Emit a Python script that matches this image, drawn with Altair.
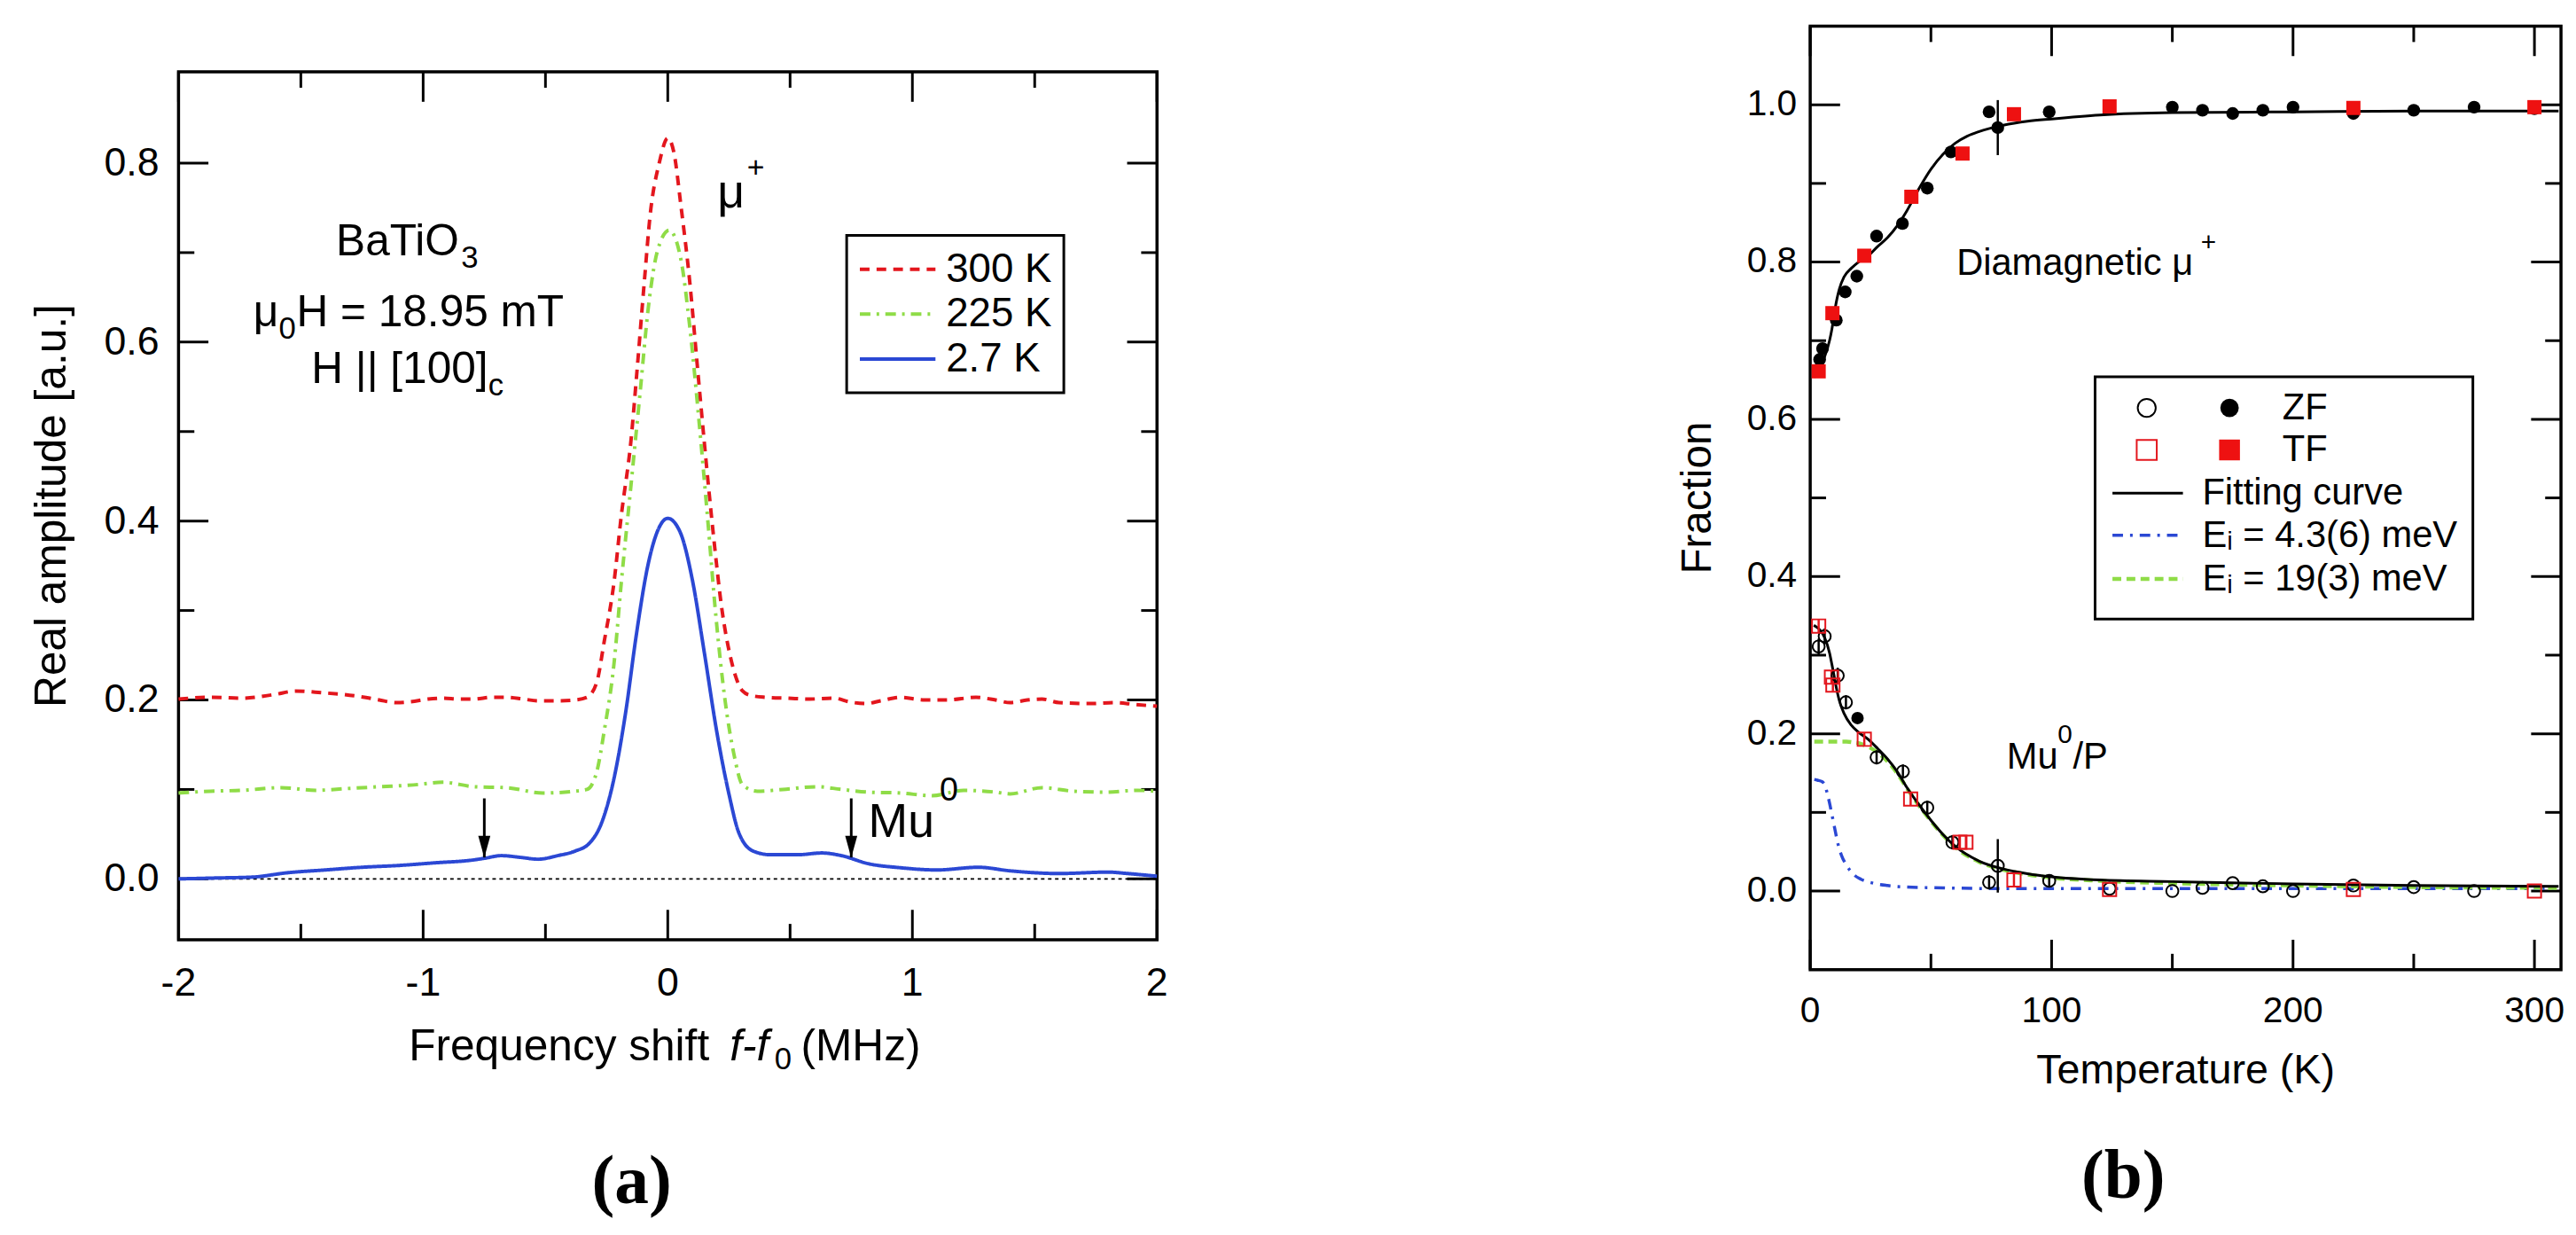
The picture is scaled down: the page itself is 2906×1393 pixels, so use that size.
import altair as alt
import pandas as pd

FONT = "Liberation Sans"
SERIF = "Liberation Serif"
RED = "#e3161d"
GREEN = "#8fdc47"
BLUE = "#2b48d4"

# ---------------- panel (a): Fourier spectra ----------------
series_labels = ["300 K", "225 K", "2.7 K"]

freq_300 = [-2.00, -1.87, -1.74, -1.61, -1.52, -1.41, -1.32, -1.24, -1.18, -1.11, -1.05, -0.98,
            -0.92, -0.85, -0.79, -0.72, -0.66, -0.59, -0.53, -0.45, -0.38, -0.33, -0.29, -0.26,
            -0.22, -0.19, -0.15, -0.126, -0.096, -0.072, -0.035, 0.00, 0.025, 0.054, 0.09, 0.12,
            0.15, 0.186, 0.222, 0.258, 0.306, 0.34, 0.40, 0.49, 0.58, 0.68, 0.74, 0.81, 0.87,
            0.95, 1.05, 1.14, 1.26, 1.34, 1.40, 1.47, 1.53, 1.60, 1.73, 1.83, 1.91, 2.00]
amp_300 = [0.201, 0.203, 0.202, 0.206, 0.210, 0.208, 0.206, 0.203, 0.200, 0.197, 0.198, 0.201,
           0.202, 0.201, 0.201, 0.203, 0.203, 0.201, 0.199, 0.199, 0.200, 0.203, 0.220, 0.265,
           0.331, 0.406, 0.491, 0.567, 0.667, 0.742, 0.800, 0.828, 0.812, 0.752, 0.667, 0.576,
           0.486, 0.386, 0.300, 0.246, 0.210, 0.205, 0.203, 0.202, 0.201, 0.202, 0.198, 0.196,
           0.199, 0.203, 0.200, 0.200, 0.203, 0.200, 0.197, 0.200, 0.201, 0.197, 0.196, 0.197,
           0.195, 0.193]

freq_225 = [-2.00, -1.87, -1.74, -1.58, -1.44, -1.31, -1.18, -1.04, -0.92, -0.79, -0.66, -0.51,
            -0.38, -0.33, -0.29, -0.26, -0.22, -0.19, -0.15, -0.114, -0.078, -0.042, 0.006, 0.054,
            0.09, 0.126, 0.162, 0.198, 0.234, 0.27, 0.306, 0.366, 0.47, 0.61, 0.71, 0.82, 0.95,
            1.08, 1.21, 1.34, 1.40, 1.53, 1.66, 1.79, 1.92, 2.00]
amp_225 = [0.096, 0.098, 0.099, 0.102, 0.099, 0.101, 0.103, 0.105, 0.108, 0.103, 0.102, 0.096,
           0.098, 0.100, 0.120, 0.165, 0.240, 0.331, 0.441, 0.541, 0.642, 0.702, 0.725, 0.692,
           0.617, 0.517, 0.406, 0.290, 0.200, 0.140, 0.105, 0.098, 0.100, 0.103, 0.100, 0.097,
           0.096, 0.093, 0.099, 0.097, 0.095, 0.102, 0.098, 0.097, 0.099, 0.098]

freq_27 = [-2.00, -1.85, -1.70, -1.55, -1.40, -1.25, -1.10, -0.95, -0.80, -0.75, -0.68, -0.60,
           -0.53, -0.45, -0.38, -0.32, -0.27, -0.22, -0.17, -0.13, -0.08, -0.04, 0.00, 0.05, 0.10,
           0.15, 0.20, 0.25, 0.29, 0.35, 0.42, 0.53, 0.63, 0.71, 0.82, 0.95, 1.10, 1.27, 1.40,
           1.60, 1.80, 1.88, 2.00]
amp_27 = [0.000, 0.001, 0.002, 0.007, 0.010, 0.013, 0.015, 0.018, 0.021, 0.023, 0.026, 0.024,
          0.022, 0.026, 0.031, 0.040, 0.063, 0.112, 0.190, 0.270, 0.352, 0.390, 0.403, 0.388,
          0.335, 0.252, 0.165, 0.095, 0.052, 0.031, 0.027, 0.027, 0.029, 0.026, 0.017, 0.0125,
          0.010, 0.013, 0.009, 0.006, 0.0076, 0.006, 0.003]

mu0_arrow_freq = [-0.75, 0.75]
mu0_arrow_from = [0.090, 0.090]
mu0_arrow_to = [0.024, 0.024]

a_xticks_major = [-2, -1, 0, 1, 2]
a_xticks_minor = [-1.5, -0.5, 0.5, 1.5]
a_yticks_major = [0.0, 0.2, 0.4, 0.6, 0.8]
a_yticks_minor = [0.1, 0.3, 0.5, 0.7]

# ---------------- panel (b): fractions vs temperature ----------------
zf_T = [3.9, 5.1, 10.8, 14.5, 19.3, 27.5, 38.2, 48.5, 58.3, 74.1, 77.7, 99.0, 150, 162.5, 175,
        187.5, 200, 225, 250, 275, 300]
zf_dia = [0.676, 0.690, 0.726, 0.762, 0.782, 0.833, 0.849, 0.894, 0.940, 0.991, 0.971, 0.991,
          0.997, 0.993, 0.989, 0.993, 0.997, 0.989, 0.993, 0.997, 0.995]
zf_dia_err = [0, 0, 0, 0, 0, 0, 0, 0, 0, 0, 0.035, 0, 0, 0, 0, 0, 0, 0, 0, 0, 0]

tf_T = [3.5, 9.2, 22.4, 41.9, 63.1, 84.4, 124, 225, 300]
tf_dia = [0.661, 0.735, 0.808, 0.883, 0.938, 0.988, 0.998, 0.996, 0.997]

zf_mu_T = [3.5, 6.0, 11.4, 14.8, 27.5, 38.4, 48.5, 58.9, 74.1, 77.7, 99.0, 124, 150, 162.5, 175,
           187.5, 200, 225, 250, 275]
zf_mu = [0.311, 0.324, 0.274, 0.240, 0.170, 0.152, 0.106, 0.062, 0.011, 0.032, 0.013, 0.003,
         0.000, 0.004, 0.010, 0.006, 0.000, 0.007, 0.005, 0.000]
zf_mu_err = [0.010, 0.010, 0.010, 0.009, 0.009, 0.009, 0.009, 0.009, 0.009, 0.034, 0.007, 0, 0,
             0, 0, 0, 0, 0, 0, 0]
zf_mu_filled_T = [19.6]
zf_mu_filled = [0.220]

tf_mu_T = [3.5, 8.8, 9.4, 22.4, 41.6, 62.0, 64.5, 84.4, 124, 225, 300]
tf_mu = [0.337, 0.272, 0.262, 0.193, 0.117, 0.062, 0.062, 0.014, 0.002, 0.002, 0.000]
tf_mu_err = [0.008, 0.008, 0.008, 0.008, 0.008, 0.008, 0.008, 0.008, 0, 0, 0]

fit_dia_T = [1.5, 2, 4, 6, 8, 9, 10, 11, 12, 14, 17, 20, 24, 28, 32, 36, 40, 45, 50, 55, 60, 65,
             70, 80, 90, 100, 120, 150, 200, 250, 310]
fit_dia = [0.653, 0.656, 0.665, 0.680, 0.700, 0.715, 0.735, 0.752, 0.765, 0.781, 0.792, 0.800,
           0.808, 0.820, 0.831, 0.846, 0.865, 0.893, 0.918, 0.937, 0.951, 0.960, 0.966, 0.974,
           0.979, 0.982, 0.987, 0.990, 0.991, 0.992, 0.992]
fit_mu_T = [1.5, 2, 4, 6, 8, 9, 10, 11, 12, 14, 17, 20, 24, 28, 32, 36, 40, 45, 50, 55, 60, 70,
            80, 90, 100, 120, 150, 200, 250, 310]
fit_mu = [0.338, 0.337, 0.332, 0.322, 0.303, 0.288, 0.272, 0.256, 0.243, 0.226, 0.211, 0.202,
          0.193, 0.181, 0.168, 0.152, 0.132, 0.110, 0.090, 0.072, 0.057, 0.038, 0.028, 0.022,
          0.018, 0.014, 0.012, 0.009, 0.007, 0.006]
ei43_T = [1.7, 3, 5, 6, 7, 8, 9, 10, 11.5, 13, 15, 18, 21, 26, 32, 40, 55, 80, 120, 200, 310]
ei43 = [0.142, 0.141, 0.139, 0.135, 0.125, 0.112, 0.097, 0.082, 0.060, 0.045, 0.033, 0.021,
        0.015, 0.010, 0.007, 0.005, 0.004, 0.003, 0.003, 0.003, 0.003]
ei19_T = [1.7, 5, 10, 15, 18, 20, 22, 25, 28, 32, 36, 40, 45, 50, 55, 60, 70, 80, 90, 100, 120,
          150, 200, 250, 310]
ei19 = [0.190, 0.190, 0.190, 0.190, 0.189, 0.188, 0.186, 0.182, 0.176, 0.165, 0.150, 0.131,
        0.109, 0.089, 0.071, 0.056, 0.037, 0.027, 0.021, 0.017, 0.013, 0.010, 0.007, 0.005, 0.004]

b_xticks_major = [0, 100, 200, 300]
b_xticks_minor = [50, 150, 250]
b_yticks_major = [0.0, 0.2, 0.4, 0.6, 0.8, 1.0]
b_yticks_minor = [0.1, 0.3, 0.5, 0.7, 0.9]

legend_b_labels = ["ZF", "TF", "Fitting curve", "E\u1d62 = 4.3(6) meV", "E\u1d62 = 19(3) meV"]

# ---------------- layout / style constants ----------------
MAJ, MINR = 34, 18
A_W, A_H = 1113, 987
B_W, B_H = 854, 1073
X_A, Y_A = [-2, 2], [-0.068, 0.902]
X_B, Y_B = [0, 311], [-0.1, 1.1]


class Frame:
    """Helper that converts pixel offsets around a panel into that panel's data units."""

    def __init__(self, xs, ys, W, H, xdom, ydom):
        self.xs, self.ys, self.W, self.H = xs, ys, W, H
        self.xdom, self.ydom = xdom, ydom
        self.kx = (xdom[1] - xdom[0]) / W
        self.ky = (ydom[1] - ydom[0]) / H

    def px_x(self, px):
        return self.xdom[0] + px * self.kx

    def px_y(self, py):  # py measured downward from the top edge
        return self.ydom[1] - py * self.ky

    def ticks(self, xmaj, xmin_, ymaj, ymin_):
        xrows, yrows = [], []
        for vals, L in [(xmaj, MAJ), (xmin_, MINR)]:
            for v in vals:
                xrows.append({"tx": v, "ty0": self.ydom[0], "ty1": self.ydom[0] + L * self.ky})
                xrows.append({"tx": v, "ty0": self.ydom[1], "ty1": self.ydom[1] - L * self.ky})
        for vals, L in [(ymaj, MAJ), (ymin_, MINR)]:
            for v in vals:
                yrows.append({"ty": v, "tx0": self.xdom[0], "tx1": self.xdom[0] + L * self.kx})
                yrows.append({"ty": v, "tx0": self.xdom[1], "tx1": self.xdom[1] - L * self.kx})
        xt = alt.Chart(pd.DataFrame(xrows)).mark_rule(color="black", strokeWidth=3).encode(
            x=alt.X("tx:Q", scale=self.xs, axis=None), y=alt.Y("ty0:Q", scale=self.ys, axis=None), y2="ty1:Q")
        yt = alt.Chart(pd.DataFrame(yrows)).mark_rule(color="black", strokeWidth=3).encode(
            y=alt.Y("ty:Q", scale=self.ys, axis=None), x=alt.X("tx0:Q", scale=self.xs, axis=None), x2="tx1:Q")
        return [xt, yt]

    def labels(self, xvals, xtxt, yvals, ytxt, size, xpad, ypad):
        dx = pd.DataFrame({"lx": xvals, "ly": [self.px_y(self.H + xpad)] * len(xvals), "lt": xtxt})
        dy = pd.DataFrame({"ly": yvals, "lx": [self.px_x(-ypad)] * len(yvals), "lt": ytxt})
        return [
            alt.Chart(dx).mark_text(font=FONT, fontSize=size, color="black", align="center",
                                    baseline="alphabetic").encode(
                x=alt.X("lx:Q", scale=self.xs, axis=None), y=alt.Y("ly:Q", scale=self.ys, axis=None),
                text="lt:N"),
            alt.Chart(dy).mark_text(font=FONT, fontSize=size, color="black", align="right",
                                    baseline="middle").encode(
                x=alt.X("lx:Q", scale=self.xs, axis=None), y=alt.Y("ly:Q", scale=self.ys, axis=None),
                text="lt:N"),
        ]

    def text(self, t, px, py, **mk):
        df = pd.DataFrame({"ft": [t], "fx": [self.px_x(px)], "fy": [self.px_y(py)]})
        return alt.Chart(df).mark_text(font=FONT, color="black", **mk).encode(
            x=alt.X("fx:Q", scale=self.xs, axis=None), y=alt.Y("fy:Q", scale=self.ys, axis=None), text="ft:N")


def text_layer(rows, xs, ys, **mk):
    df = pd.DataFrame(rows, columns=["t", "x", "y"])
    return alt.Chart(df).mark_text(font=FONT, color="black", **mk).encode(
        x=alt.X("x:Q", scale=xs, axis=None), y=alt.Y("y:Q", scale=ys, axis=None), text="t:N")


# ======================= panel (a) =======================
xs_a = alt.Scale(domain=X_A, nice=False, zero=False)
ys_a = alt.Scale(domain=Y_A, nice=False, zero=False)
fa = Frame(xs_a, ys_a, A_W, A_H, X_A, Y_A)

rows = []
for lab, fx, ay in [("300 K", freq_300, amp_300), ("225 K", freq_225, amp_225), ("2.7 K", freq_27, amp_27)]:
    for i, (f, a) in enumerate(zip(fx, ay)):
        rows.append({"f": f, "a": a, "T": lab, "i": i})
dfa = pd.DataFrame(rows)

leg_a = alt.Legend(title=None, orient="none", legendX=760, legendY=186, symbolType="stroke",
                   symbolSize=7396, symbolStrokeWidth=4, labelFont=FONT, labelFontSize=46,
                   labelColor="black", labelOffset=10, clipHeight=51, rowPadding=0, padding=13,
                   strokeColor="black")

lines_a = alt.Chart(dfa).mark_line(strokeWidth=4, interpolate="monotone").encode(
    x=alt.X("f:Q", scale=xs_a, axis=None),
    y=alt.Y("a:Q", scale=ys_a, axis=None),
    color=alt.Color("T:N", scale=alt.Scale(domain=series_labels, range=[RED, GREEN, BLUE]), legend=leg_a),
    strokeDash=alt.StrokeDash("T:N", scale=alt.Scale(domain=series_labels,
                                                     range=[[11, 8], [12, 7, 3, 7], [1, 0]]), legend=leg_a),
    detail="T:N",
    order="i:Q",
)

zero_line = alt.Chart(pd.DataFrame({"z": [0.0]})).mark_rule(
    color="black", strokeWidth=1.6, strokeDash=[4, 4]).encode(y=alt.Y("z:Q", scale=ys_a, axis=None))

arr = pd.DataFrame({"f": mu0_arrow_freq, "y1": mu0_arrow_from, "y2": mu0_arrow_to})
arrow_rule = alt.Chart(arr).mark_rule(color="black", strokeWidth=3).encode(
    x=alt.X("f:Q", scale=xs_a, axis=None), y=alt.Y("y1:Q", scale=ys_a, axis=None), y2="y2:Q")
arrow_head = alt.Chart(arr).mark_point(
    shape="M-0.55,-1L0.55,-1L0,1Z", filled=True, color="black", opacity=1, size=625,
    yOffset=-12).encode(x=alt.X("f:Q", scale=xs_a, axis=None), y=alt.Y("y2:Q", scale=ys_a, axis=None))

texts_a = [
    text_layer([("BaTiO", -1.356, 0.697), ("\u03bc", -1.694, 0.618), ("H = 18.95 mT", -1.518, 0.618),
                ("H || [100]", -1.457, 0.554)], xs_a, ys_a, fontSize=50, align="left", baseline="alphabetic"),
    text_layer([("3", -0.845, 0.683), ("0", -1.59, 0.604), ("c", -0.734, 0.540)], xs_a, ys_a,
               fontSize=35, align="left", baseline="alphabetic"),
    text_layer([("\u03bc", 0.259, 0.75)], xs_a, ys_a, fontSize=54, align="center", baseline="alphabetic"),
    text_layer([("+", 0.36, 0.794)], xs_a, ys_a, fontSize=34, align="center", baseline="middle"),
    text_layer([("Mu", 0.82, 0.047)], xs_a, ys_a, fontSize=54, align="left", baseline="alphabetic"),
    text_layer([("0", 1.149, 0.098)], xs_a, ys_a, fontSize=38, align="center", baseline="middle"),
]

ticks_a = fa.ticks(a_xticks_major, a_xticks_minor, a_yticks_major, a_yticks_minor)
deco_a = fa.labels(a_xticks_major, [str(int(v)) for v in a_xticks_major],
                   a_yticks_major, ["%.1f" % v for v in a_yticks_major], 45, 64, 22)
deco_a += [
    fa.text("Frequency shift", 262, A_H + 137, fontSize=50, align="left", baseline="alphabetic"),
    fa.text("f-f", 627, A_H + 137, fontSize=50, align="left", baseline="alphabetic", fontStyle="italic"),
    fa.text("0", 678, A_H + 147, fontSize=35, align="left", baseline="alphabetic"),
    fa.text("(MHz)", 708, A_H + 137, fontSize=50, align="left", baseline="alphabetic"),
    fa.text("Real amplitude [a.u.]", -128, A_H / 2, fontSize=50, align="center", baseline="alphabetic",
            angle=270),
]

panel_a = alt.layer(*ticks_a, zero_line, lines_a, arrow_rule, arrow_head, *texts_a, *deco_a).properties(
    width=A_W, height=A_H,
    title=alt.TitleParams("(a)", orient="bottom", font=SERIF, fontWeight="bold", fontSize=78,
                          offset=84, frame="group", anchor="middle", dx=-41, color="black"))

spacer = alt.Chart(pd.DataFrame({"s": [0]})).mark_point(opacity=0).properties(
    width=20, height=47, view=alt.ViewBackground(stroke="transparent"))

col_a = alt.vconcat(spacer, panel_a, spacing=0).resolve_scale(color="independent", strokeDash="independent")

# ======================= panel (b) =======================
xs_b = alt.Scale(domain=X_B, nice=False, zero=False)
ys_b = alt.Scale(domain=Y_B, nice=False, zero=False)
fb = Frame(xs_b, ys_b, B_W, B_H, X_B, Y_B)


def line_b(T, F, **mk):
    df = pd.DataFrame({"T": T, "F": F})
    return alt.Chart(df).mark_line(interpolate="monotone", **mk).encode(
        x=alt.X("T:Q", scale=xs_b, axis=None), y=alt.Y("F:Q", scale=ys_b, axis=None))


def pts_b(T, F, **mk):
    df = pd.DataFrame({"T": T, "F": F})
    return alt.Chart(df).mark_point(opacity=1, **mk).encode(
        x=alt.X("T:Q", scale=xs_b, axis=None), y=alt.Y("F:Q", scale=ys_b, axis=None))


def err_b(T, F, E, color):
    df = pd.DataFrame({"T": T, "F": F, "E": E})
    df = df[df["E"] > 0]
    df = df.assign(lo=df["F"] - df["E"], hi=df["F"] + df["E"])
    return alt.Chart(df).mark_rule(color=color, strokeWidth=2.5).encode(
        x=alt.X("T:Q", scale=xs_b, axis=None), y=alt.Y("lo:Q", scale=ys_b, axis=None), y2="hi:Q")


layers_b = fb.ticks(b_xticks_major, b_xticks_minor, b_yticks_major, b_yticks_minor) + [
    line_b(ei43_T, ei43, color=BLUE, strokeWidth=3.5, strokeDash=[12, 8, 3, 8]),
    line_b(ei19_T, ei19, color=GREEN, strokeWidth=4.5, strokeDash=[10, 6]),
    line_b(fit_mu_T, fit_mu, color="black", strokeWidth=3),
    line_b(fit_dia_T, fit_dia, color="black", strokeWidth=3),
    err_b(zf_T, zf_dia, zf_dia_err, "black"),
    err_b(zf_mu_T, zf_mu, zf_mu_err, "black"),
    err_b(tf_mu_T, tf_mu, tf_mu_err, RED),
    pts_b(zf_mu_T, zf_mu, shape="circle", filled=False, color="black", strokeWidth=2, size=190),
    pts_b(tf_mu_T, tf_mu, shape="square", filled=False, color=RED, strokeWidth=2, size=230),
    pts_b(zf_mu_filled_T, zf_mu_filled, shape="circle", filled=True, color="black", size=200),
    pts_b(zf_T, zf_dia, shape="circle", filled=True, color="black", size=210),
    pts_b(tf_T, tf_dia, shape="square", filled=True, color="#ee1111", size=260),
]

# hand-made legend of panel (b), placed in data coordinates of the panel
LB_X0, LB_X1, LB_Y0, LB_Y1 = 118.0, 274.5, 0.346, 0.654
LB_ROWS = [0.6145, 0.561, 0.506, 0.4525, 0.397]
LB_SYM1, LB_SYM2, LB_TXT1 = 139.4, 173.7, 195.6
LB_LN0, LB_LN1, LB_TXT2 = 125.2, 154.4, 162.4

legend_box = alt.Chart(pd.DataFrame({"x0": [LB_X0], "x1": [LB_X1], "y0": [LB_Y0], "y1": [LB_Y1]})).mark_rect(
    fill="white", stroke="black", strokeWidth=3).encode(
    x=alt.X("x0:Q", scale=xs_b, axis=None), x2="x1:Q", y=alt.Y("y0:Q", scale=ys_b, axis=None), y2="y1:Q")
layers_b.append(legend_box)
layers_b += [
    pts_b([LB_SYM1], [LB_ROWS[0]], shape="circle", filled=False, color="black", strokeWidth=2, size=420),
    pts_b([LB_SYM2], [LB_ROWS[0]], shape="circle", filled=True, color="black", size=440),
    pts_b([LB_SYM1], [LB_ROWS[1]], shape="square", filled=False, color=RED, strokeWidth=2, size=520),
    pts_b([LB_SYM2], [LB_ROWS[1]], shape="square", filled=True, color="#ee1111", size=560),
]
for r, colr, dash, sw in [(2, "black", [1, 0], 3), (3, BLUE, [12, 8, 3, 8], 3.5), (4, GREEN, [10, 6], 4.5)]:
    seg = pd.DataFrame({"a": [LB_LN0], "b": [LB_LN1], "y": [LB_ROWS[r]]})
    layers_b.append(alt.Chart(seg).mark_rule(color=colr, strokeWidth=sw, strokeDash=dash).encode(
        x=alt.X("a:Q", scale=xs_b, axis=None), x2="b:Q", y=alt.Y("y:Q", scale=ys_b, axis=None)))
layers_b.append(text_layer([(legend_b_labels[0], LB_TXT1, LB_ROWS[0]), (legend_b_labels[1], LB_TXT1, LB_ROWS[1]),
                            (legend_b_labels[2], LB_TXT2, LB_ROWS[2]), (legend_b_labels[3], LB_TXT2, LB_ROWS[3]),
                            (legend_b_labels[4], LB_TXT2, LB_ROWS[4])], xs_b, ys_b,
                           fontSize=42, align="left", baseline="middle"))

layers_b += [
    text_layer([("Diamagnetic \u03bc", 60.6, 0.784), ("Mu", 81.4, 0.1557), ("/P", 108.8, 0.1557)], xs_b, ys_b,
               fontSize=42, align="left", baseline="alphabetic"),
    text_layer([("+", 165, 0.8246), ("0", 105.5, 0.198)], xs_b, ys_b, fontSize=30, align="center",
               baseline="middle"),
]

deco_b = fb.labels(b_xticks_major, [str(int(v)) for v in b_xticks_major],
                   b_yticks_major, ["%.1f" % v for v in b_yticks_major], 41, 60, 15)
deco_b += [
    fb.text("Temperature (K)", B_W / 2, B_H + 129, fontSize=47, align="center", baseline="alphabetic"),
    fb.text("Fraction", -113, B_H / 2, fontSize=48, align="center", baseline="alphabetic", angle=270),
]

panel_b = alt.layer(*layers_b, *deco_b).properties(
    width=B_W, height=B_H,
    title=alt.TitleParams("(b)", orient="bottom", font=SERIF, fontWeight="bold", fontSize=78,
                          offset=59, frame="group", anchor="middle", dx=-71, color="black"))

chart = alt.hconcat(col_a, panel_b, spacing=575).resolve_scale(
    color="independent", strokeDash="independent").properties(
    padding={"left": 25, "top": 12, "right": 0, "bottom": 0}
).configure_view(stroke="black", strokeWidth=3.5).configure_legend(strokeWidth=3)

chart.save("out.html", embed_options={"renderer": "svg", "actions": False})
